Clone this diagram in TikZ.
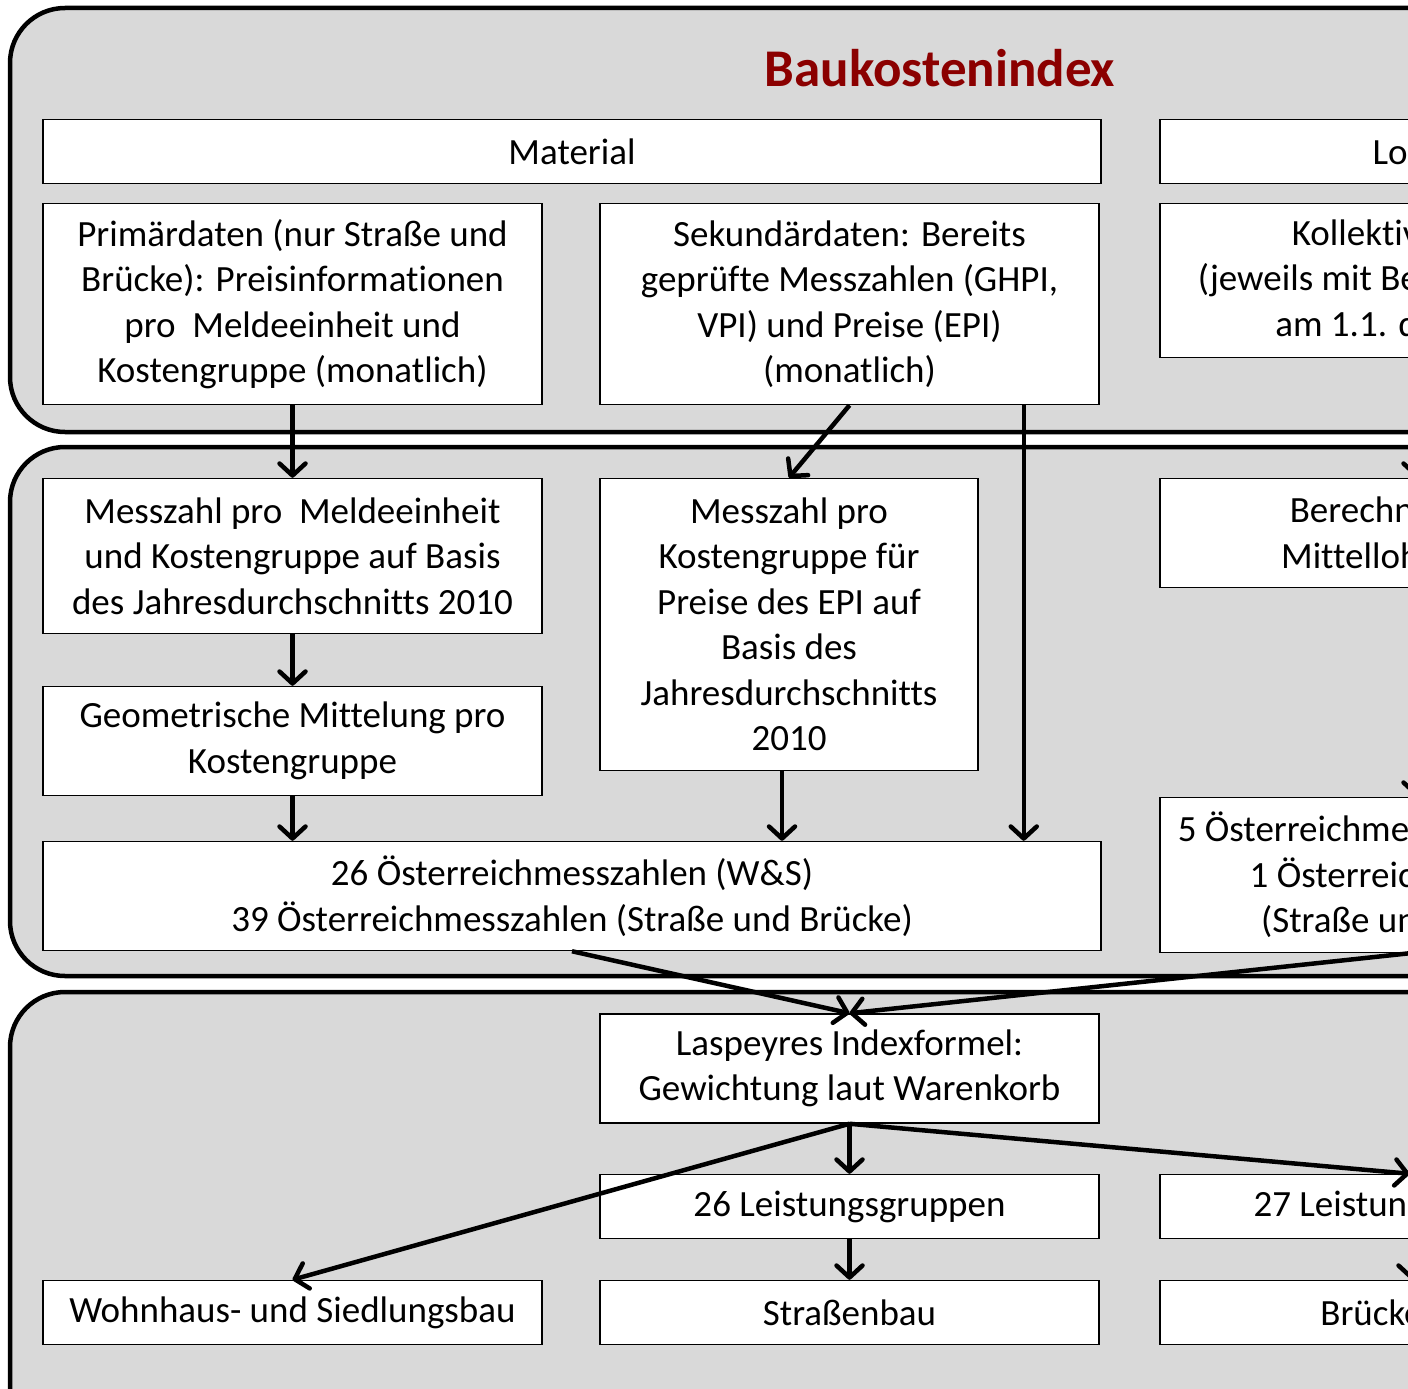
\documentclass[tikz,border=0pt]{standalone}
\usepackage{fontspec}
\setmainfont{Carlito}[Ligatures=NoCommon]
\usetikzlibrary{arrows.meta}
\definecolor{panelgray}{HTML}{D9D9D9}
\definecolor{titlered}{HTML}{8B0000}

\begin{document}
\begin{tikzpicture}[x=1pt, y=-1pt,
  panel/.style={draw=black, line width=4.5pt, fill=panelgray, rounded corners=55pt},
  box/.style={draw=black, line width=1.5pt, fill=white, align=center, inner sep=0pt,
              font=\fontsize{37}{45.5}\selectfont, minimum height=64pt, minimum width=499pt},
  arr/.style={draw, line width=4.5pt, -{Straight Barb[length=12pt,width=26pt,round]}}]
\useasboundingbox (0,0) rectangle (1408,1389);
\clip (0,0) rectangle (1408,1389);

% panels
\draw[panel] (10,8) rectangle (1700,432);
\draw[panel] (10,447) rectangle (1700,976);
\draw[panel] (10,992) rectangle (1700,1480);

\node[font=\fontsize{53}{64}\selectfont\bfseries, text=titlered] (title) at (940,68) {Baukostenindex};

% Material / Lohn
\node[box, minimum width=1058pt] (mat) at (572,151.5) {Material};
\node[box] (lohn) at (1409.5,151.5) {Lohn};
\node[box, minimum height=201pt] (prim) at (292.5,304)
  {Primärdaten (nur Straße und\\Brücke): Preisinformationen\\pro\ \ Meldeeinheit und\\Kostengruppe (monatlich)};
\node[box, minimum height=201pt] (sek) at (849.5,304)
  {Sekundärdaten: Bereits\\geprüfte Messzahlen (GHPI,\\VPI) und Preise (EPI)\\(monatlich)};
\node[box, minimum height=154pt] (koll) at (1409.5,280.5)
  {Kollektivvertrag\\(jeweils mit Beginn gültig ab\\am 1.1. d. Jahres)};

% Messzahlen
\node[box, minimum height=155pt] (mzme) at (292.5,556)
  {Messzahl pro\ \ Meldeeinheit\\und Kostengruppe auf Basis\\des Jahresdurchschnitts 2010};
\node[box, minimum width=378pt, minimum height=292pt] (mzkg) at (789,624.5)
  {Messzahl pro\\Kostengruppe für\\Preise des EPI auf\\Basis des\\Jahresdurchschnitts\\2010};
\node[box, minimum height=109pt] (ber) at (1409.5,533) {Berechnung der\\Mittellohnkosten};
\node[box, minimum height=109pt] (geo) at (292.5,741) {Geometrische Mittelung pro\\Kostengruppe};
\node[box, minimum width=1058pt, minimum height=109pt] (oe26) at (572,896)
  {26 Österreichmesszahlen (W\&S)\\39 Österreichmesszahlen (Straße und Brücke)};
\node[box, minimum height=155pt] (oe5) at (1409.5,875)
  {5 Österreichmesszahlen (W\&S)\\1 Österreichmesszahl\\(Straße und Brücke)};

% Index
\node[box, minimum height=109pt] (lasp) at (849.5,1068.5) {Laspeyres Indexformel:\\Gewichtung laut Warenkorb};
\node[box] (lg26) at (849.5,1206.5) {26 Leistungsgruppen};
\node[box] (lg27) at (1409.5,1206.5) {27 Leistungsgruppen};
\node[box] (wohn) at (292.5,1312.5) {Wohnhaus- und Siedlungsbau};
\node[box] (str) at (849.5,1312.5) {Straßenbau};
\node[box] (bru) at (1409.5,1312.5) {Brückenbau};

% arrows
\draw[arr] (prim.south) -- (mzme.north);
\draw[arr] (sek.south) -- (mzkg.north);
\draw[arr] ([xshift=-76pt]sek.south east) -- ([xshift=-78pt]oe26.north east);
\draw[arr] ([xshift=7pt]koll.south) -- ([xshift=7pt]ber.north);
\draw[arr] (mzme.south) -- (geo.north);
\draw[arr] (geo.south) -- (geo.south |- oe26.north);
\draw[arr] ([xshift=-7pt]mzkg.south) -- ([xshift=-7pt]mzkg.south |- oe26.north);
\draw[arr] ([xshift=7pt]ber.south) -- ([xshift=7pt]oe5.north);
\draw[arr] (oe26.south) -- (lasp.north);
\draw[arr] (oe5.south) -- (lasp.north);
\draw[arr] (lasp.south) -- (lg26.north);
\draw[arr] (lasp.south) -- (wohn.north);
\draw[arr] (lasp.south) -- (lg27.north);
\draw[arr] (lg26.south) -- (str.north);
\draw[arr] ([xshift=2pt]lg27.south) -- ([xshift=2pt]bru.north);
\end{tikzpicture}
\end{document}
